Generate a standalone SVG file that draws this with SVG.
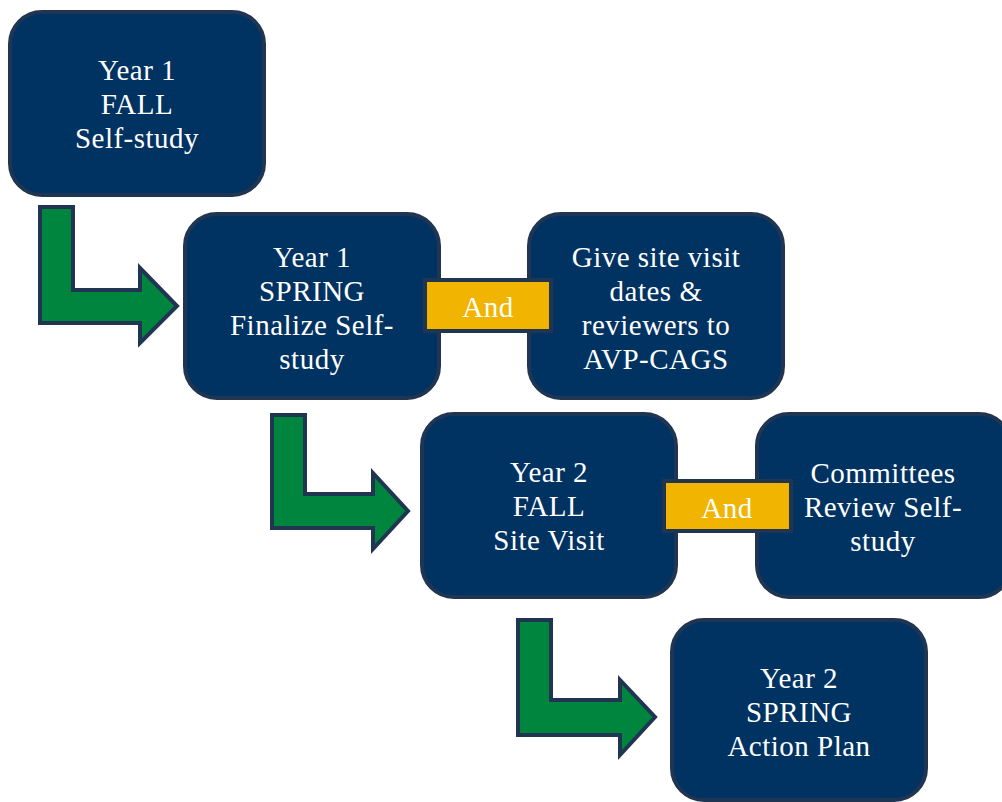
<svg xmlns="http://www.w3.org/2000/svg" width="1002" height="802" viewBox="0 0 1002 802">
<style>
.box{fill:#003262;stroke:#1f3552;stroke-width:4}
.and{fill:#f1b400;stroke:#1f3552;stroke-width:4}
.arr{fill:#00853e;stroke:#1f3552;stroke-width:4;stroke-linejoin:miter}
text{font-family:"Liberation Serif","DejaVu Serif",serif;font-size:29px;letter-spacing:0.5px;fill:#ffffff;text-anchor:middle}
</style>
<rect width="1002" height="802" fill="#ffffff"/>
<g id="connectors">
<path class="arr" d="M40,207 H73 V290 H140 V268 L177,306 L140,343 V323 H40 Z"/>
<path class="arr" d="M272,415 H305 V494 H373 V473 L408,511 L373,549 V528 H272 Z"/>
<path class="arr" d="M518,620 H551 V700 H620 V680 L655,717 L620,755 V735 H518 Z"/>
</g>
<g id="n1"><rect class="box" x="10" y="12" width="254" height="183" rx="32"/>
<text x="137" y="80">Year 1</text><text x="137" y="114">FALL</text><text x="137" y="148">Self-study</text></g>
<g id="n2"><rect class="box" x="185" y="214" width="254" height="184" rx="32"/>
<text x="312" y="267">Year 1</text><text x="312" y="301">SPRING</text><text x="312" y="335">Finalize Self-</text><text x="312" y="369">study</text></g>
<g id="n3"><rect class="box" x="529" y="214" width="254" height="184" rx="32"/>
<text x="656" y="267">Give site visit</text><text x="656" y="301">dates &amp;</text><text x="656" y="335">reviewers to</text><text x="656" y="369">AVP-CAGS</text></g>
<g id="and1"><rect class="and" x="425" y="280" width="126" height="51"/>
<text x="488" y="317">And</text></g>
<g id="n4"><rect class="box" x="422" y="414" width="254" height="183" rx="32"/>
<text x="549" y="482">Year 2</text><text x="549" y="516">FALL</text><text x="549" y="550">Site Visit</text></g>
<g id="n5"><rect class="box" x="757" y="414" width="254" height="183" rx="32"/>
<text x="883" y="483">Committees</text><text x="883" y="517">Review Self-</text><text x="883" y="551">study</text></g>
<g id="and2"><rect class="and" x="664" y="481" width="127" height="50"/>
<text x="727" y="518">And</text></g>
<g id="n6"><rect class="box" x="672" y="620" width="254" height="180" rx="32"/>
<text x="799" y="688">Year 2</text><text x="799" y="722">SPRING</text><text x="799" y="756">Action Plan</text></g>
</svg>
